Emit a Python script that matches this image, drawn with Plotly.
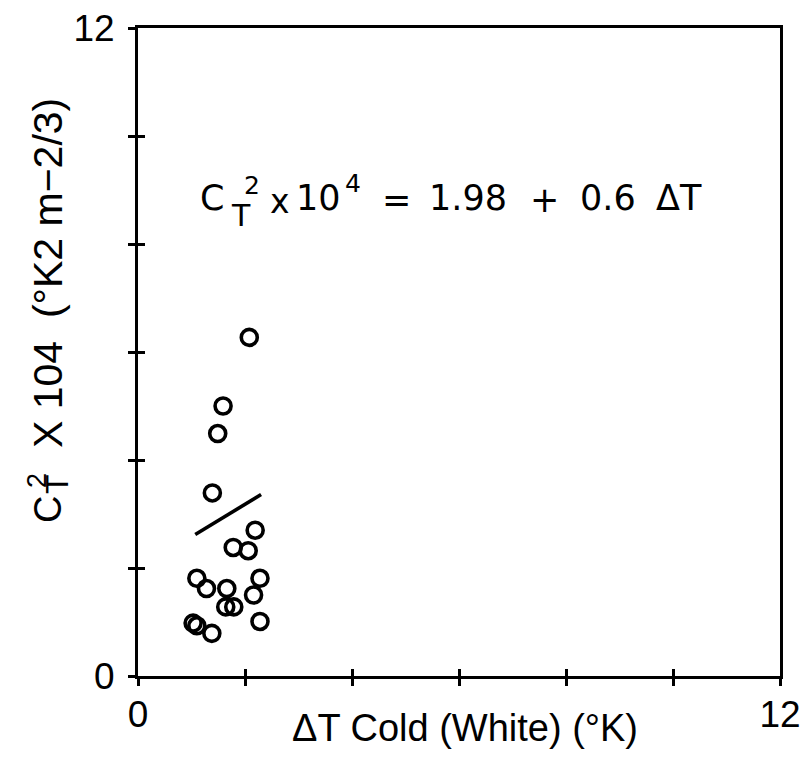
import plotly.graph_objects as go

# ---- data ----
dt_cold = [2.08, 1.59, 1.49, 1.39, 2.19, 1.78, 2.06, 1.10, 1.28, 1.66, 2.28, 2.16,
           1.64, 1.79, 2.28, 1.03, 1.10, 1.38]
ct2 = [6.27, 5.00, 4.49, 3.39, 2.70, 2.38, 2.32, 1.81, 1.62, 1.62, 1.81, 1.50,
       1.28, 1.28, 1.01, 0.98, 0.93, 0.79]
fit_x = [1.07, 2.30]
fit_y = [2.62, 3.36]
tick_vals = [0, 2, 4, 6, 8, 10, 12]
tick_text = ["0", "", "", "", "", "", "12"]

W, H = 805, 757
L, R, T, B = 138, 25, 28, 81
PW, PH = W - L - R, H - T - B
FONT = "Liberation Sans, Arial, sans-serif"
WIDE = "DejaVu Sans, Verdana, sans-serif"


def px(xp, yp):
    return (xp - L) / PW, (T + PH - yp) / PH


fig = go.Figure()
fig.add_trace(go.Scatter(x=dt_cold, y=ct2, mode="markers",
                         marker=dict(symbol="circle-open", size=16, color="black",
                                     line=dict(width=3.6, color="black")),
                         showlegend=False, hoverinfo="skip"))
fig.add_trace(go.Scatter(x=fit_x, y=fit_y, mode="lines",
                         line=dict(color="black", width=3.6),
                         showlegend=False, hoverinfo="skip"))
# overlay axes carrying the inward half of the crossing ticks
fig.add_trace(go.Scatter(x=[None], y=[None], xaxis="x2", yaxis="y2", showlegend=False))

axis_common = dict(range=[0, 12], tickvals=tick_vals, showgrid=False, zeroline=False,
                   linecolor="black", linewidth=3, tickcolor="black", tickwidth=2.5,
                   automargin=False)
fig.update_layout(
    width=W, height=H, margin=dict(l=L, r=R, t=T, b=B),
    paper_bgcolor="white", plot_bgcolor="white",
    font=dict(family=FONT, color="black", size=36),
    xaxis=dict(**axis_common, ticktext=tick_text, ticks="outside", ticklen=7,
               mirror=True, showline=True, tickfont=dict(size=37), ticklabelstandoff=-3),
    yaxis=dict(**axis_common, ticktext=tick_text, ticks="outside", ticklen=7,
               mirror=True, showline=True, tickfont=dict(size=37), ticklabelstandoff=6),
    xaxis2=dict(**axis_common, overlaying="x", anchor="y", side="bottom", ticks="inside",
                ticklen=7, showticklabels=False, showline=False),
    yaxis2=dict(**axis_common, overlaying="y", anchor="x", side="left", ticks="inside",
                ticklen=7, showticklabels=False, showline=False),
)

ann = []


def add(text, xp, yp, size, angle=0, xanchor="center", family=FONT):
    ax, ay = px(xp, yp)
    ann.append(dict(text=text, x=ax, y=ay, xref="paper", yref="paper", showarrow=False,
                    xanchor=xanchor, yanchor="middle", textangle=angle,
                    font=dict(family=family, size=size, color="black")))


# equation inside the plot
add("C", 212, 198, 35, family=WIDE)
add("2", 252, 186, 25, family=WIDE)
add("T", 241, 216, 30, family=WIDE)
add("x", 280, 202, 33, family=WIDE)
add("10", 318, 198, 35, family=WIDE)
add("4", 353, 184, 25, family=WIDE)
add("=", 396, 200, 35, family=WIDE)
add("1.98", 468, 198, 35, family=WIDE)
add("+", 544, 200, 35, family=WIDE)
add("0.6", 608, 198, 35, family=WIDE)
add("ΔT", 679, 198, 35, family=WIDE)

# x axis title
add("ΔT Cold (White) (°K)", 465, 728, 38)

# y axis title (rotated, built from pieces to stack sub/superscript)
add("C", 48, 510, 38, angle=-90)
add("2", 37, 481, 27, angle=-90)
add("T", 57, 484, 32, angle=-90)
add("X 104  (°K2 m−2/3)", 48, 273, 41, angle=-90)

fig.update_layout(annotations=ann)
fig.write_html("out.html")
